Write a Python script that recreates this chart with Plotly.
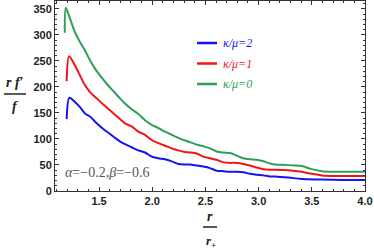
import plotly.graph_objects as go

# data
r_green = [1.178, 1.187, 1.227, 1.274, 1.321, 1.368, 1.415, 1.462, 1.509, 1.572, 1.634, 1.697, 1.744, 1.807,
           1.869, 1.932, 1.995, 2.057, 2.120, 2.183, 2.245, 2.308, 2.355, 2.418, 2.480, 2.543, 2.606, 2.668,
           2.731, 2.794, 2.856, 2.919, 2.982, 3.044, 3.107, 3.154, 3.248, 3.342, 3.405, 3.499, 3.593, 3.718,
           3.850, 4.000]
y_green = [304, 352, 331, 305, 286, 270, 251, 235, 222, 206, 192, 178, 168, 157,
           148, 136, 127, 121, 114, 108, 102, 97, 94, 89, 86, 82, 76, 74,
           73, 68, 63, 61, 60, 57, 53, 51, 50, 49, 48, 42, 38, 37,
           37, 37]

r_red = [1.196, 1.218, 1.274, 1.321, 1.368, 1.415, 1.478, 1.540, 1.603, 1.681, 1.744, 1.807, 1.869, 1.932,
         1.995, 2.057, 2.120, 2.183, 2.245, 2.308, 2.355, 2.418, 2.480, 2.543, 2.606, 2.668, 2.731, 2.794,
         2.856, 2.919, 2.982, 3.044, 3.107, 3.154, 3.280, 3.405, 3.499, 3.593, 3.718, 3.850, 4.000]
y_red = [211, 259, 241, 222, 203, 190, 178, 166, 155, 141, 130, 124, 114, 108,
         98, 92, 87, 82, 78, 75, 74, 72, 66, 63, 60, 55, 54, 54,
         52, 49, 45, 42, 41, 41, 40, 37, 33, 30, 29, 29, 29]

r_blue = [1.196, 1.221, 1.274, 1.321, 1.368, 1.415, 1.478, 1.540, 1.600, 1.650, 1.700, 1.744, 1.807, 1.869,
          1.932, 1.995, 2.057, 2.120, 2.183, 2.245, 2.308, 2.355, 2.418, 2.480, 2.543, 2.606, 2.668, 2.731,
          2.794, 2.856, 2.919, 2.982, 3.044, 3.107, 3.154, 3.280, 3.405, 3.593, 3.800, 4.000]
y_blue = [138, 179, 171, 161, 149, 143, 130, 119, 110, 102, 95, 90, 84, 78,
          74, 66, 63, 61, 57, 52, 51, 51, 49, 47, 44, 39, 38, 37,
          37, 36, 33, 31, 30, 28, 28, 26, 23, 22, 21, 21]

labels = ["κ/μ=2", "κ/μ=1", "κ/μ=0"]
colors = ["#1414f0", "#f01414", "#2e9e58"]
x_ticks = [1.5, 2.0, 2.5, 3.0, 3.5, 4.0]
y_ticks = [0, 50, 100, 150, 200, 250, 300, 350]

W, H, L, R, T, B = 374, 251, 55, 9, 1, 60
pw, ph = W - L - R, H - T - B


def px(xp):
    return (xp - L) / pw


def py(yp):
    return 1 - (yp - T) / ph


fig = go.Figure()
for name, xs, ys, col in zip(labels, [r_blue, r_red, r_green], [y_blue, y_red, y_green], colors):
    fig.add_trace(go.Scatter(x=xs, y=ys, mode="lines", name=name, showlegend=False,
                             line=dict(color=col, width=2, shape="spline", smoothing=0.8)))

tickfont = dict(family="Liberation Sans", size=11, color="#222")
axis_common = dict(showline=True, linecolor="#333", linewidth=1, mirror="ticks", ticks="inside",
                   ticklen=4, tickcolor="#333", showgrid=False, zeroline=False, tickfont=tickfont)

fig.update_xaxes(range=[1.086, 4.0], tickvals=x_ticks,
                 ticktext=["<b>%.1f</b>" % v for v in x_ticks],
                 minor=dict(ticks="inside", ticklen=2, dtick=0.1, tick0=1.0, tickcolor="#333"),
                 **axis_common)
fig.update_yaxes(range=[0, 365], tickvals=y_ticks,
                 ticktext=["<b>%d</b>" % v for v in y_ticks],
                 minor=dict(ticks="inside", ticklen=2, dtick=10, tick0=0, tickcolor="#333"),
                 **axis_common)

serif = "Liberation Serif"
annotations = []
for x0, y0, txt, sz in [(15, 82, "<b><i>r f′</i></b>", 14),
                        (15, 107, "<b><i>f</i></b>", 14),
                        (210, 216, "<b><i>r</i></b>", 14),
                        (211, 241, "<b><i>r</i><sub>+</sub></b>", 13)]:
    annotations.append(dict(x=px(x0), y=py(y0), xref="paper", yref="paper", text=txt,
                            showarrow=False, xanchor="center", yanchor="middle",
                            font=dict(family=serif, size=sz, color="#222")))
annotations.append(dict(x=px(63), y=py(172), xref="paper", yref="paper",
                        text="<i>α</i>=−0.2,<i>β</i>=−0.6", showarrow=False,
                        xanchor="left", yanchor="middle",
                        font=dict(family=serif, size=14, color="#555")))

shapes = [
    dict(type="line", xref="paper", yref="paper", x0=px(4), x1=px(26), y0=py(94), y1=py(94),
         line=dict(color="#222", width=1.5)),
    dict(type="line", xref="paper", yref="paper", x0=px(203), x1=px(217), y0=py(227), y1=py(227),
         line=dict(color="#222", width=1.5)),
]

# legend (key lines + coloured labels)
for i, (name, col) in enumerate(zip(labels, colors)):
    yy = 43 + i * 20.5
    shapes.append(dict(type="line", xref="paper", yref="paper", x0=px(197), x1=px(217),
                       y0=py(yy), y1=py(yy), line=dict(color=col, width=2.5)))
    annotations.append(dict(x=px(221), y=py(yy), xref="paper", yref="paper",
                            text="<i>%s</i>" % name, showarrow=False, xanchor="left",
                            yanchor="middle", font=dict(family=serif, size=12, color=col)))

fig.update_layout(
    width=W, height=H, margin=dict(l=L, r=R, t=T, b=B),
    plot_bgcolor="white", paper_bgcolor="white",
    annotations=annotations, shapes=shapes,
    showlegend=False,
)

fig.write_html("out.html", config={"displayModeBar": False},
               post_script="document.body.style.margin='0px';")
